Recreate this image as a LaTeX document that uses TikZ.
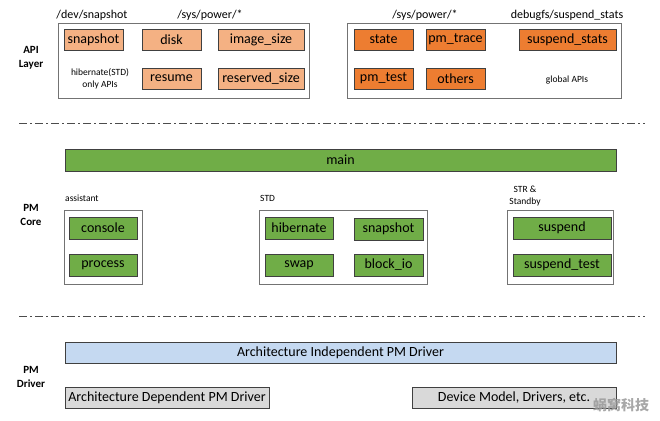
\documentclass[tikz,border=0pt]{standalone}
\usepackage{fontspec}
\setmainfont{Carlito}
\newfontfamily\cjk{Noto Sans CJK SC}
\definecolor{salmon}{HTML}{F4B183}
\definecolor{orng}{HTML}{ED7D31}
\definecolor{grn}{HTML}{70AD47}
\definecolor{lblue}{HTML}{C5D9F1}
\definecolor{lgray}{HTML}{D9D9D9}
\definecolor{edge}{HTML}{404040}
\begin{document}
\begin{tikzpicture}[x=1pt,y=-1pt,
  box/.style={draw=edge, line width=0.8pt, inner sep=0pt, minimum height=21pt, font=\fontsize{14}{16}\selectfont},
  sbox/.style={box, fill=salmon},
  obox/.style={box, fill=orng},
  gbox/.style={box, fill=grn, minimum height=22pt},
  container/.style={draw=black!55, line width=0.8pt},
  hdr/.style={font=\fontsize{12}{14}\selectfont, inner sep=0pt},
  small/.style={font=\fontsize{9.5}{12}\selectfont, inner sep=0pt, align=center},
  layer/.style={font=\bfseries\fontsize{11}{14}\selectfont, inner sep=0pt, align=center},
  sep/.style={draw=black!70, line width=0.9pt, dash pattern=on 8pt off 3pt on 2pt off 3pt}
]
\useasboundingbox[fill=white] (0,0) rectangle (660,420);

% ---------- API layer ----------
\node[layer] (apil) at (31,57.5) {API\\Layer};
\draw[container] (58,23) rectangle (309,98);
\draw[container] (347,23) rectangle (621,98);
\node[hdr] (hdev) at (92,15) {/dev/snapshot};
\node[hdr] (hsys1) at (210,15) {/sys/power/*};
\node[hdr] (hsys2) at (425,15) {/sys/power/*};
\node[hdr] (hdbg) at (567,15) {debugfs/suspend\_stats};

\node[sbox, minimum width=59pt] (a1) at (93.5,39.5) {snapshot};
\node[sbox, minimum width=59pt] (a2) at (171.5,39.5) {disk};
\node[sbox, minimum width=86pt] (a3) at (261,39.5) {image\_size};
\node[sbox, minimum width=59pt] (a4) at (171.5,78.5) {resume};
\node[sbox, minimum width=86pt] (a5) at (261,78.5) {reserved\_size};
\node[small] (hib) at (100,79) {hibernate(STD)\\only APIs};

\node[obox, minimum width=59pt] (b1) at (383.5,39.5) {state};
\node[obox, minimum width=59pt] (b2) at (455.5,39.5) {pm\_trace};
\node[obox, minimum width=97pt] (b3) at (567.5,39.5) {suspend\_stats};
\node[obox, minimum width=59pt] (b4) at (383.5,78.5) {pm\_test};
\node[obox, minimum width=59pt] (b5) at (455.5,78.5) {others};
\node[small] (glob) at (567,80) {global APIs};

\coordinate (s1l) at (19,123);
\coordinate (s1r) at (645,123);
\draw[sep] (s1l) -- (s1r);

% ---------- PM core ----------
\node[layer] (corel) at (31,215) {PM\\Core};
\node[gbox, minimum width=551pt] (main) at (340.5,160) {main};

\node[small, anchor=west] (asl) at (65,198) {assistant};
\draw[container] (64,210) rectangle (142,284);
\node[gbox, minimum width=68pt] (c1) at (103,228) {console};
\node[gbox, minimum width=68pt] (c2) at (103,265) {process};

\node[small, anchor=west] (stdl) at (260,198) {STD};
\draw[container] (259,210) rectangle (427,284);
\node[gbox, minimum width=68pt] (d1) at (299,228) {hibernate};
\node[gbox, minimum width=69pt] (d2) at (388.5,229) {snapshot};
\node[gbox, minimum width=68pt] (d3) at (299,265) {swap};
\node[gbox, minimum width=69pt] (d4) at (388.5,265) {block\_io};

\node[small] (strl) at (525,196) {STR \&\\Standby};
\draw[container] (507,210) rectangle (613,284);
\node[gbox, minimum width=98pt] (e1) at (562,228) {suspend};
\node[gbox, minimum width=98pt] (e2) at (562,265) {suspend\_test};

\coordinate (s2l) at (19,316);
\coordinate (s2r) at (645,316);
\draw[sep] (s2l) -- (s2r);

% ---------- PM driver ----------
\node[layer] (drvl) at (31,377) {PM\\Driver};
\node[box, fill=lblue, minimum width=551pt] (ind) at (340.5,352.5) {Architecture Independent PM Driver};
\node[box, fill=lgray, minimum width=204pt] (dep) at (167,397.5) {Architecture Dependent PM Driver};
\node[box, fill=lgray, minimum width=204pt] (dev) at (514,397.5) {Device Model, Drivers, etc.};

\node[inner sep=0pt, font=\cjk\bfseries\fontsize{14}{16}\selectfont, text=black!40, opacity=0.85] (wm) at (621,405) {蜗窝科技};
\end{tikzpicture}
\end{document}
